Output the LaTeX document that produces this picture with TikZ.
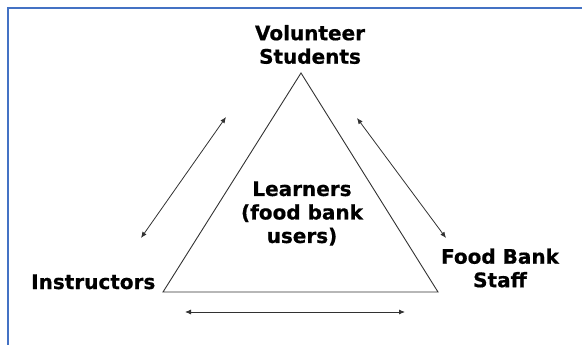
\documentclass[tikz,border=0pt]{standalone}
\usepackage{fontspec}
\setmainfont{DejaVu Sans}
\newfontfamily\lblfont{DejaVu Sans Bold}[FakeBold=0.6]
\usetikzlibrary{arrows.meta}
\definecolor{frameblue}{RGB}{68,114,196}
\definecolor{linegray}{RGB}{50,50,50}
\tikzset{
  lbl/.style={font=\fontsize{20}{23.5}\lblfont, inner sep=0pt, align=center, text=black},
  tri/.style={draw=linegray, line width=0.9pt, line join=miter},
  rel/.style={draw=linegray, line width=0.8pt, {Latex[length=6pt,width=5pt]}-{Latex[length=6pt,width=5pt]}}
}
\begin{document}
\begin{tikzpicture}[x=1pt,y=-1pt]
\useasboundingbox (0,0) rectangle (582,345);
% frame
\draw[frameblue, line width=1.1pt] (8,345) -- (8,8) -- (582,8);
% triangle corners
\coordinate (apex) at (301,73);
\coordinate (bl) at (163,292);
\coordinate (br) at (438,292);
\draw[tri] (apex) -- (br) -- (bl) -- cycle;
% labels
\node[lbl] (vol) at (310,44.5) {Volunteer\\Students};
\node[lbl] (learn) at (302,213.5) {Learners\\(food bank\\users)};
\node[lbl, anchor=base west] (instr) at (31,289) {Instructors};
\node[lbl] (fbs) at (500,268) {Food Bank\\Staff};
% relation arrows
\coordinate (a1s) at (141,238);
\coordinate (a1e) at (226,117);
\coordinate (a2s) at (357,118);
\coordinate (a2e) at (446,238);
\coordinate (a3s) at (185,312);
\coordinate (a3e) at (405,312);
\draw[rel] (a1s) -- (a1e);
\draw[rel] (a2s) -- (a2e);
\draw[rel] (a3s) -- (a3e);
\end{tikzpicture}
\end{document}
